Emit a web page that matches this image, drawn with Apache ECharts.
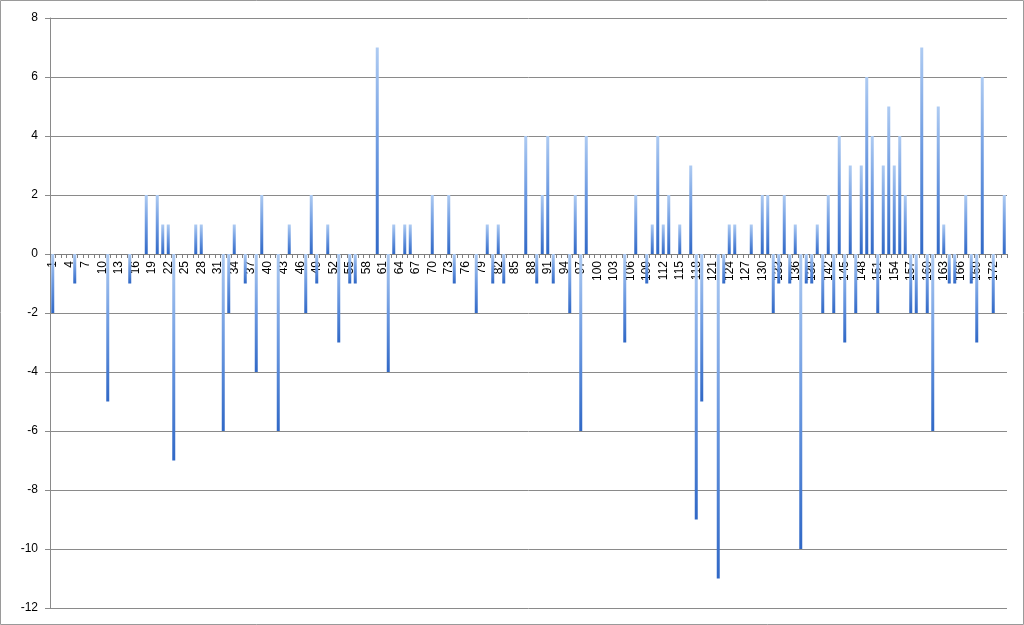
<!DOCTYPE html>
<html>
<head>
<meta charset="utf-8">
<script src="https://cdn.jsdelivr.net/npm/echarts@6/dist/echarts.min.js"></script>
<style>
html,body{margin:0;padding:0;background:#fff;}
#chart{width:1024px;height:625px;}
</style>
</head>
<body>
<div id="chart"></div>
<script>
// Category labels 1..174
var categories = [];
for (var i = 1; i <= 174; i++) categories.push(String(i));

// Series values (one per category)
var values = [
  -2,0,0,0,-1,0,0,0,0,0,
  -5,0,0,0,-1,0,0,2,0,2,
  1,1,-7,0,0,0,1,1,0,0,
  0,-6,-2,1,0,-1,0,-4,2,0,
  0,-6,0,1,0,0,-2,2,-1,0,
  1,0,-3,0,-1,-1,0,0,0,7,
  0,-4,1,0,1,1,0,0,0,2,
  0,0,2,-1,0,0,0,-2,0,1,
  -1,1,-1,0,0,0,4,0,-1,2,
  4,-1,0,0,-2,2,-6,4,0,0,
  0,0,0,0,-3,0,2,0,-1,1,
  4,1,2,0,1,0,3,-9,-5,0,
  0,-11,-1,1,1,0,0,1,0,2,
  2,-2,-1,2,-1,1,-10,-1,-1,1,
  -2,2,-2,4,-3,3,-2,3,6,4,
  -2,3,5,3,4,2,-2,-2,7,-2,
  -6,5,1,-1,-1,0,2,-1,-3,6,
  0,-2,0,2
];

// Y axis range and tick step
var yMin = -12, yMax = 8, yStep = 2;

var gridTop = 18, gridBottom = 17, H = 625;
var plotH = H - gridTop - gridBottom;
// place the category axis on the zero line
var zeroOffset = -plotH * (0 - yMin) / (yMax - yMin);

var chart = echarts.init(document.getElementById('chart'), null, {renderer: 'canvas'});
var barColor = new echarts.graphic.LinearGradient(0, 0, 0, 1, [
  {offset: 0, color: '#aecbf2'},
  {offset: 0.5, color: '#6a98e0'},
  {offset: 1, color: '#3068c6'}
]);
chart.setOption({
  animation: false,
  backgroundColor: '#ffffff',
  textStyle: {fontFamily: '"Liberation Sans", Arial, Helvetica, sans-serif'},
  grid: {left: 50, right: 17, top: gridTop, bottom: gridBottom, containLabel: false, outerBoundsMode: 'none'},
  xAxis: {
    type: 'category',
    data: categories,
    offset: zeroOffset,
    z: 1,
    axisLine: {onZero: false, lineStyle: {color: '#7f7f7f', width: 1}},
    axisTick: {show: true, interval: 0, length: 4, lineStyle: {color: '#7f7f7f'}},
    axisLabel: {interval: 2, rotate: 90, fontSize: 12, color: '#000', margin: 7},
    splitLine: {show: false}
  },
  yAxis: {
    type: 'value',
    min: yMin, max: yMax, interval: yStep,
    z: 0,
    axisLine: {show: true, lineStyle: {color: '#8a8a8a'}},
    axisTick: {show: true, length: 5, lineStyle: {color: '#8a8a8a'}},
    axisLabel: {fontSize: 12, color: '#000', margin: 12},
    splitLine: {show: true, lineStyle: {color: '#8a8a8a', width: 1}}
  },
  series: [{
    type: 'bar',
    data: values,
    barWidth: 3,
    z: 10,
    itemStyle: {color: barColor}
  }],
  graphic: [{
    type: 'rect',
    shape: {x: 0.5, y: 0.5, width: 1023, height: 624},
    style: {fill: 'none', stroke: '#9a9a9a', lineWidth: 1},
    silent: true
  }]
});
</script>
</body>
</html>
